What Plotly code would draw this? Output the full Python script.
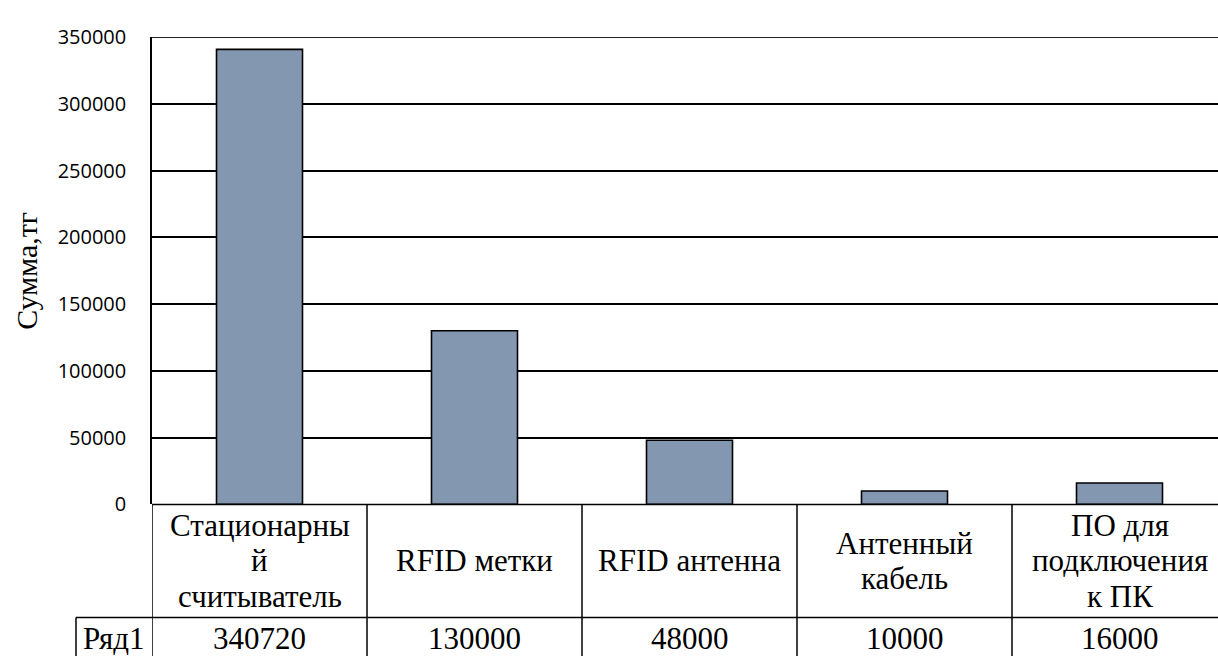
import plotly.graph_objects as go

# Chart data
categories = ["Стационарный считыватель", "RFID метки", "RFID антенна", "Антенный кабель", "ПО для подключения к ПК"]
category_lines = [
    ["Стационарны", "й", "считыватель"],
    ["RFID метки"],
    ["RFID антенна"],
    ["Антенный", "кабель"],
    ["ПО для", "подключения", "к ПК"],
]
values = [340720, 130000, 48000, 10000, 16000]
series_name = "Ряд1"
y_ticks = [0, 50000, 100000, 150000, 200000, 250000, 300000, 350000]

W, H = 1218, 669
# Layout geometry in pixels
left_px = 152          # y-axis / table first column
col_w = 215            # table column width
top_px = 24            # 350000 line
zero_px = 511          # baseline / table top
row2_px = 629          # values row top
label_left_px = 76     # series name cell left edge


def py(p):
    return (H - p) / H


def px(p):
    return p / W


x_idx = list(range(len(categories)))
x_max = -0.5 + (W - left_px) / col_w

fig = go.Figure()
fig.add_trace(go.Bar(
    x=x_idx, y=values, name=series_name,
    marker=dict(color="rgb(132,151,176)", line=dict(color="black", width=1.6)),
    showlegend=False,
))

shapes = []
line_style = dict(color="black", width=1.5)
# top border of the plot area (max of the value axis)
shapes.append(dict(type="line", xref="paper", yref="y", x0=px(left_px), x1=1,
                   y0=y_ticks[-1], y1=y_ticks[-1], line=dict(color="#222", width=2)))
# table borders
shapes.append(dict(type="line", xref="paper", yref="paper", x0=px(left_px), x1=1,
                   y0=py(zero_px), y1=py(zero_px), line=line_style))
shapes.append(dict(type="line", xref="paper", yref="paper", x0=px(label_left_px), x1=1,
                   y0=py(row2_px), y1=py(row2_px), line=line_style))
shapes.append(dict(type="line", xref="paper", yref="paper", x0=px(label_left_px), x1=px(label_left_px),
                   y0=py(row2_px), y1=0, line=line_style))
for b in [i - 0.5 for i in range(len(categories))]:
    shapes.append(dict(type="line", xref="x", yref="paper", x0=b, x1=b,
                       y0=py(zero_px), y1=0, line=line_style))

annotations = []
serif = "Liberation Serif, Times New Roman, serif"
row1_center = (zero_px + row2_px) / 2
line_gap = 37
for i, lines in enumerate(category_lines):
    n = len(lines)
    for k, t in enumerate(lines):
        yc = row1_center + (k - (n - 1) / 2) * line_gap
        annotations.append(dict(text=t, x=i, xref="x", y=py(yc), yref="paper",
                                showarrow=False, xanchor="center", yanchor="middle",
                                font=dict(family=serif, size=31, color="black")))
row2_center = 651
for i, v in enumerate(values):
    annotations.append(dict(text=str(v), x=i, xref="x", y=py(row2_center), yref="paper",
                            showarrow=False, xanchor="center", yanchor="middle",
                            font=dict(family=serif, size=31, color="black")))
annotations.append(dict(text=series_name, x=px((label_left_px + left_px) / 2), xref="paper",
                        y=py(row2_center), yref="paper", showarrow=False,
                        xanchor="center", yanchor="middle",
                        font=dict(family=serif, size=31, color="black")))
annotations.append(dict(text="Сумма,тг", x=px(27), xref="paper",
                        y=py((top_px + zero_px) / 2), yref="paper", showarrow=False,
                        textangle=-90, xanchor="center", yanchor="middle",
                        font=dict(family=serif, size=30, color="black")))

fig.update_layout(
    width=W, height=H,
    margin=dict(l=0, r=0, t=0, b=0),
    paper_bgcolor="white", plot_bgcolor="white",
    bargap=0.6,
    shapes=shapes,
    annotations=annotations,
    xaxis=dict(domain=[px(left_px), 1], range=[-0.5, x_max], showticklabels=False,
               showgrid=False, zeroline=False, showline=False, ticks=""),
    yaxis=dict(domain=[py(zero_px), py(top_px)], range=[0, 350000],
               tickvals=y_ticks, ticktext=[str(t) for t in y_ticks],
               tickfont=dict(family="Open Sans, sans-serif", size=20, color="black"),
               showgrid=True, gridcolor="black", gridwidth=1.5,
               zeroline=False, showline=True, linecolor="black", linewidth=1.5,
               ticks="", ticklabelstandoff=20),
)

fig.write_html("out.html")
